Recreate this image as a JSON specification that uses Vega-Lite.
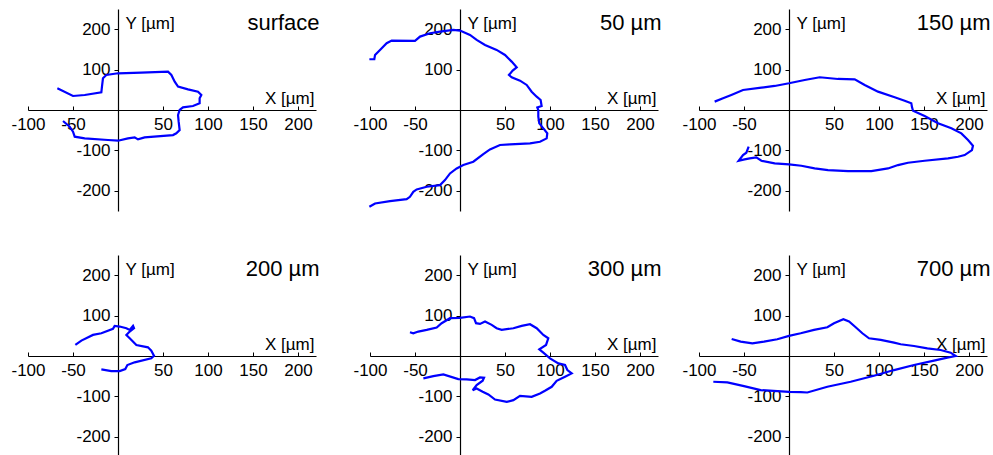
{
  "$schema": "https://vega.github.io/schema/vega-lite/v6.json",
  "autosize": {"type": "pad"},
  "padding": {"left": 10, "top": 9, "right": 0, "bottom": 0},
  "background": "white",
  "config": {
    "font": "Liberation Sans",
    "view": {"stroke": null},
    "axis": {"grid": false, "domainColor": "black", "tickColor": "black", "labelColor": "black", "titleColor": "black", "labelFont": "Liberation Sans", "titleFont": "Liberation Sans", "labelFontSize": 17, "titleFontSize": 17, "titleFontWeight": "normal", "labelFlush": false, "labelOverlap": false, "domainWidth": 1.2, "tickWidth": 1},
    "axisX": {"orient": "bottom", "offset": -101, "values": [-100, -75, -50, -25, 0, 25, 50, 75, 100, 125, 150, 175, 200], "labelExpr": "datum.value % 50 == 0 && datum.value != 0 ? '' + datum.value : ''", "tickSize": -4, "labelPadding": 10, "titleX": 286, "titleY": -7, "titleAlign": "right", "titleBaseline": "alphabetic", "titleAngle": 0},
    "axisY": {"orient": "left", "offset": -90, "values": [-250, -200, -150, -100, -50, 0, 50, 100, 150, 200, 250], "labelExpr": "datum.value % 100 == 0 && datum.value != 0 ? '' + datum.value : ''", "tickSize": 4, "labelPadding": 4, "titleX": 7, "titleY": 19, "titleAlign": "left", "titleBaseline": "alphabetic", "titleAngle": 0}
  },
  "datasets": {
    "p1": [
      {"x": -67.4, "y": 53.7}, {"x": -50, "y": 34.7}, {"x": -37, "y": 37.2}, {"x": -18.5, "y": 43.8}, {"x": -17.8, "y": 57.8}, {"x": -16.7, "y": 78.5}, {"x": -13, "y": 86.7}, {"x": 0, "y": 90.9}, {"x": 25.9, "y": 92.5}, {"x": 55.6, "y": 95}, {"x": 59.3, "y": 86.7}, {"x": 63, "y": 70.2}, {"x": 66.7, "y": 57.8}, {"x": 77.8, "y": 51.2}, {"x": 88.9, "y": 45.4}, {"x": 92.6, "y": 37.2}, {"x": 90.7, "y": 28.9}, {"x": 90.7, "y": 16.5}, {"x": 83.3, "y": 9.9}, {"x": 72.2, "y": 6.6}, {"x": 68.5, "y": 0}, {"x": 66.7, "y": -12.4}, {"x": 67.4, "y": -28.9}, {"x": 68.5, "y": -49.6}, {"x": 64.8, "y": -57.8}, {"x": 61.1, "y": -62}, {"x": 29.6, "y": -67.7}, {"x": 22.2, "y": -72.7}, {"x": 18.5, "y": -67.7}, {"x": 11.1, "y": -70.2}, {"x": 0, "y": -76}, {"x": -11.1, "y": -74.3}, {"x": -37, "y": -70.2}, {"x": -48.1, "y": -66.1}, {"x": -50, "y": -53.7}, {"x": -53.7, "y": -41.3}, {"x": -61.1, "y": -27.3}
    ],
    "p2": [
      {"x": -100.7, "y": 125.6}, {"x": -95.2, "y": 125.6}, {"x": -94.4, "y": 136.3}, {"x": -88.9, "y": 148.7}, {"x": -81.5, "y": 165.2}, {"x": -75.9, "y": 171.8}, {"x": -50, "y": 171}, {"x": -44.4, "y": 181.7}, {"x": -33.3, "y": 190}, {"x": -22.2, "y": 194.1}, {"x": -7.4, "y": 198.3}, {"x": 0, "y": 196.6}, {"x": 11.1, "y": 185.9}, {"x": 18.5, "y": 173.5}, {"x": 27.8, "y": 161.1}, {"x": 40.7, "y": 148.7}, {"x": 50, "y": 136.3}, {"x": 57.4, "y": 119.8}, {"x": 63, "y": 105.7}, {"x": 58.5, "y": 97.5}, {"x": 54.4, "y": 86.7}, {"x": 57.4, "y": 81}, {"x": 66.7, "y": 72.7}, {"x": 74.1, "y": 62}, {"x": 79.6, "y": 45.4}, {"x": 85.2, "y": 33}, {"x": 89.6, "y": 24.8}, {"x": 90.7, "y": 9.9}, {"x": 85.9, "y": 6.6}, {"x": 87, "y": 0}, {"x": 87, "y": -16.5}, {"x": 88.1, "y": -33}, {"x": 92.6, "y": -45.4}, {"x": 97, "y": -57.8}, {"x": 96.3, "y": -70.2}, {"x": 88.9, "y": -78.5}, {"x": 77.8, "y": -82.6}, {"x": 55.6, "y": -85.1}, {"x": 44.4, "y": -86.7}, {"x": 33.3, "y": -97.5}, {"x": 25.9, "y": -109}, {"x": 14.8, "y": -128}, {"x": 3.7, "y": -136.3}, {"x": -3.7, "y": -144.6}, {"x": -11.1, "y": -157}, {"x": -16.7, "y": -173.5}, {"x": -22.2, "y": -185.9}, {"x": -37, "y": -190}, {"x": -48.1, "y": -196.6}, {"x": -51.9, "y": -202.4}, {"x": -55.6, "y": -214.8}, {"x": -59.3, "y": -220.6}, {"x": -77.8, "y": -225.5}, {"x": -94.4, "y": -231.3}, {"x": -100.7, "y": -239.6}
    ],
    "p3": [
      {"x": -82.6, "y": 20.7}, {"x": -73.3, "y": 28.9}, {"x": -64.1, "y": 37.2}, {"x": -51.1, "y": 49.6}, {"x": -30.7, "y": 55.3}, {"x": -15.9, "y": 59.5}, {"x": 0, "y": 66.1}, {"x": 17.4, "y": 74.3}, {"x": 34.1, "y": 81}, {"x": 54.4, "y": 76.8}, {"x": 73, "y": 76}, {"x": 84.1, "y": 62}, {"x": 98.9, "y": 45.4}, {"x": 117.4, "y": 31.4}, {"x": 128.5, "y": 23.1}, {"x": 135.9, "y": 16.5}, {"x": 136.7, "y": 6.6}, {"x": 137.8, "y": -1.7}, {"x": 150.7, "y": -14.9}, {"x": 165.6, "y": -33}, {"x": 180.4, "y": -45.4}, {"x": 191.5, "y": -57.8}, {"x": 198.9, "y": -74.3}, {"x": 204.4, "y": -88.4}, {"x": 203.3, "y": -99.1}, {"x": 195.2, "y": -111.5}, {"x": 187.8, "y": -115.7}, {"x": 176.7, "y": -119.8}, {"x": 150.7, "y": -125.6}, {"x": 132.2, "y": -130.5}, {"x": 121.1, "y": -136.3}, {"x": 110, "y": -144.6}, {"x": 91.5, "y": -151.2}, {"x": 65.6, "y": -151.2}, {"x": 43.3, "y": -148.7}, {"x": 28.5, "y": -144.6}, {"x": 13.7, "y": -138}, {"x": 0, "y": -134.7}, {"x": -15.9, "y": -132.2}, {"x": -30.7, "y": -125.6}, {"x": -36.3, "y": -117.3}, {"x": -43.7, "y": -119.8}, {"x": -49.3, "y": -122.3}, {"x": -55.9, "y": -125.6}, {"x": -51.1, "y": -111.5}, {"x": -47.4, "y": -105.7}, {"x": -44.8, "y": -90.9}
    ],
    "p4": [
      {"x": -47.4, "y": 27.3}, {"x": -40.7, "y": 38.1}, {"x": -27.8, "y": 52.2}, {"x": -18.5, "y": 56.3}, {"x": -5.6, "y": 67.1}, {"x": -3.7, "y": 74.5}, {"x": 1.9, "y": 72.9}, {"x": 9.3, "y": 68.7}, {"x": 13, "y": 64.6}, {"x": 16.7, "y": 74.5}, {"x": 17.8, "y": 68.7}, {"x": 13, "y": 60.5}, {"x": 9.3, "y": 52.2}, {"x": 13, "y": 43.9}, {"x": 20.4, "y": 27.3}, {"x": 33.3, "y": 21.5}, {"x": 37, "y": 13.3}, {"x": 40, "y": 0.8}, {"x": 37, "y": -5.8}, {"x": 18.5, "y": -15.7}, {"x": 10.4, "y": -22.4}, {"x": 8.1, "y": -32.3}, {"x": 1.9, "y": -37.3}, {"x": -7.4, "y": -37.3}, {"x": -18.5, "y": -33.1}
    ],
    "p5": [
      {"x": -55.6, "y": 58.8}, {"x": -51.9, "y": 56.3}, {"x": -46.3, "y": 60.5}, {"x": -37, "y": 64.6}, {"x": -25.9, "y": 70.4}, {"x": -20.4, "y": 81.2}, {"x": -11.1, "y": 93.6}, {"x": 0, "y": 94.4}, {"x": 11.1, "y": 97.7}, {"x": 15.6, "y": 93.6}, {"x": 17.8, "y": 81.2}, {"x": 22.2, "y": 79.5}, {"x": 27.8, "y": 85.3}, {"x": 35.2, "y": 77}, {"x": 40.7, "y": 68.7}, {"x": 46.3, "y": 64.6}, {"x": 59.3, "y": 68.7}, {"x": 68.5, "y": 74.5}, {"x": 77.8, "y": 78.7}, {"x": 85.2, "y": 68.7}, {"x": 92.6, "y": 52.2}, {"x": 98.1, "y": 43.9}, {"x": 95.6, "y": 27.3}, {"x": 88.1, "y": 16.6}, {"x": 92.6, "y": 8.3}, {"x": 100, "y": -5.8}, {"x": 109.3, "y": -18.2}, {"x": 116.7, "y": -22.4}, {"x": 119.3, "y": -34.8}, {"x": 124.1, "y": -43.1}, {"x": 116.7, "y": -51.3}, {"x": 107.4, "y": -61.3}, {"x": 101.9, "y": -76.2}, {"x": 94.4, "y": -86.1}, {"x": 88.9, "y": -92.8}, {"x": 79.6, "y": -101}, {"x": 66.7, "y": -98.6}, {"x": 59.3, "y": -109.3}, {"x": 51.9, "y": -113.5}, {"x": 38.9, "y": -107.7}, {"x": 31.5, "y": -95.2}, {"x": 25.2, "y": -88.6}, {"x": 18.5, "y": -80.3}, {"x": 14.1, "y": -84.5}, {"x": 18.5, "y": -72}, {"x": 25.2, "y": -61.3}, {"x": 26.7, "y": -53.8}, {"x": 22.2, "y": -53}, {"x": 16.7, "y": -59.6}, {"x": 7.4, "y": -58}, {"x": -1.9, "y": -57.1}, {"x": -18.5, "y": -45.5}, {"x": -29.6, "y": -49.7}, {"x": -40.7, "y": -55.5}
    ],
    "p6": [
      {"x": -63.7, "y": 42.2}, {"x": -53.7, "y": 35.6}, {"x": -40.7, "y": 31.5}, {"x": -27.8, "y": 35.6}, {"x": -13, "y": 41.4}, {"x": 0, "y": 49.7}, {"x": 13, "y": 56.3}, {"x": 27.8, "y": 64.6}, {"x": 42.6, "y": 71.2}, {"x": 50, "y": 81.2}, {"x": 60.4, "y": 91.1}, {"x": 66.7, "y": 85.3}, {"x": 74.1, "y": 71.2}, {"x": 81.5, "y": 56.3}, {"x": 88.9, "y": 43.9}, {"x": 101.9, "y": 39.8}, {"x": 116.7, "y": 33.1}, {"x": 124.1, "y": 29}, {"x": 138.9, "y": 24.8}, {"x": 153.7, "y": 19}, {"x": 168.5, "y": 14.9}, {"x": 179.6, "y": 8.3}, {"x": 185.2, "y": 0}, {"x": 175.9, "y": -4.1}, {"x": 161.1, "y": -11.6}, {"x": 138.9, "y": -22.4}, {"x": 116.7, "y": -34.8}, {"x": 94.4, "y": -48.9}, {"x": 68.5, "y": -63.8}, {"x": 42.6, "y": -76.2}, {"x": 20.4, "y": -90.3}, {"x": 13, "y": -89.4}, {"x": 0, "y": -88.6}, {"x": -31.5, "y": -84.5}, {"x": -50, "y": -74.5}, {"x": -68.5, "y": -65.4}, {"x": -84.1, "y": -63.8}
    ]
  },
  "spacing": 43,
  "vconcat": [
    {
      "bounds": "flush",
      "spacing": 54,
      "hconcat": [
        {
          "width": 288, "height": 202,
          "layer": [
            {"data": {"name": "p1"}, "mark": {"type": "line", "color": "#0000ff", "strokeWidth": 2.2, "clip": false},
             "encoding": {"x": {"field": "x", "type": "quantitative", "scale": {"domain": [-100, 220], "nice": false, "zero": false}, "axis": {"title": "X [µm]"}},
                          "y": {"field": "y", "type": "quantitative", "scale": {"domain": [-250, 250], "nice": false, "zero": false}, "axis": {"title": "Y [µm]"}},
                          "order": {"value": null}}},
            {"data": {"values": [{"label": "surface"}]}, "mark": {"type": "text", "align": "right", "baseline": "alphabetic", "fontSize": 22, "color": "black"},
             "encoding": {"x": {"datum": 224, "type": "quantitative"}, "y": {"datum": 197, "type": "quantitative"}, "text": {"field": "label"}}}
          ]
        },
        {
          "bounds": "flush",
          "spacing": 41,
          "hconcat": [
            {
              "width": 288, "height": 202,
              "layer": [
                {"data": {"name": "p2"}, "mark": {"type": "line", "color": "#0000ff", "strokeWidth": 2.2, "clip": false},
                 "encoding": {"x": {"field": "x", "type": "quantitative", "scale": {"domain": [-100, 220], "nice": false, "zero": false}, "axis": {"title": "X [µm]"}},
                              "y": {"field": "y", "type": "quantitative", "scale": {"domain": [-250, 250], "nice": false, "zero": false}, "axis": {"title": "Y [µm]"}},
                              "order": {"value": null}}},
                {"data": {"values": [{"label": "50 µm"}]}, "mark": {"type": "text", "align": "right", "baseline": "alphabetic", "fontSize": 22, "color": "black"},
                 "encoding": {"x": {"datum": 224, "type": "quantitative"}, "y": {"datum": 197, "type": "quantitative"}, "text": {"field": "label"}}}
              ]
            },
            {
              "width": 288, "height": 202,
              "layer": [
                {"data": {"name": "p3"}, "mark": {"type": "line", "color": "#0000ff", "strokeWidth": 2.2, "clip": false},
                 "encoding": {"x": {"field": "x", "type": "quantitative", "scale": {"domain": [-100, 220], "nice": false, "zero": false}, "axis": {"title": "X [µm]"}},
                              "y": {"field": "y", "type": "quantitative", "scale": {"domain": [-250, 250], "nice": false, "zero": false}, "axis": {"title": "Y [µm]"}},
                              "order": {"value": null}}},
                {"data": {"values": [{"label": "150 µm"}]}, "mark": {"type": "text", "align": "right", "baseline": "alphabetic", "fontSize": 22, "color": "black"},
                 "encoding": {"x": {"datum": 224, "type": "quantitative"}, "y": {"datum": 197, "type": "quantitative"}, "text": {"field": "label"}}}
              ]
            }
          ]
        }
      ]
    },
    {
      "bounds": "flush",
      "spacing": 54,
      "hconcat": [
        {
          "width": 288, "height": 202,
          "layer": [
            {"data": {"name": "p4"}, "mark": {"type": "line", "color": "#0000ff", "strokeWidth": 2.2, "clip": false},
             "encoding": {"x": {"field": "x", "type": "quantitative", "scale": {"domain": [-100, 220], "nice": false, "zero": false}, "axis": {"title": "X [µm]"}},
                          "y": {"field": "y", "type": "quantitative", "scale": {"domain": [-250, 250], "nice": false, "zero": false}, "axis": {"title": "Y [µm]"}},
                          "order": {"value": null}}},
            {"data": {"values": [{"label": "200 µm"}]}, "mark": {"type": "text", "align": "right", "baseline": "alphabetic", "fontSize": 22, "color": "black"},
             "encoding": {"x": {"datum": 224, "type": "quantitative"}, "y": {"datum": 197, "type": "quantitative"}, "text": {"field": "label"}}}
          ]
        },
        {
          "bounds": "flush",
          "spacing": 41,
          "hconcat": [
            {
              "width": 288, "height": 202,
              "layer": [
                {"data": {"name": "p5"}, "mark": {"type": "line", "color": "#0000ff", "strokeWidth": 2.2, "clip": false},
                 "encoding": {"x": {"field": "x", "type": "quantitative", "scale": {"domain": [-100, 220], "nice": false, "zero": false}, "axis": {"title": "X [µm]"}},
                              "y": {"field": "y", "type": "quantitative", "scale": {"domain": [-250, 250], "nice": false, "zero": false}, "axis": {"title": "Y [µm]"}},
                              "order": {"value": null}}},
                {"data": {"values": [{"label": "300 µm"}]}, "mark": {"type": "text", "align": "right", "baseline": "alphabetic", "fontSize": 22, "color": "black"},
                 "encoding": {"x": {"datum": 224, "type": "quantitative"}, "y": {"datum": 197, "type": "quantitative"}, "text": {"field": "label"}}}
              ]
            },
            {
              "width": 288, "height": 202,
              "layer": [
                {"data": {"name": "p6"}, "mark": {"type": "line", "color": "#0000ff", "strokeWidth": 2.2, "clip": false},
                 "encoding": {"x": {"field": "x", "type": "quantitative", "scale": {"domain": [-100, 220], "nice": false, "zero": false}, "axis": {"title": "X [µm]"}},
                              "y": {"field": "y", "type": "quantitative", "scale": {"domain": [-250, 250], "nice": false, "zero": false}, "axis": {"title": "Y [µm]"}},
                              "order": {"value": null}}},
                {"data": {"values": [{"label": "700 µm"}]}, "mark": {"type": "text", "align": "right", "baseline": "alphabetic", "fontSize": 22, "color": "black"},
                 "encoding": {"x": {"datum": 224, "type": "quantitative"}, "y": {"datum": 197, "type": "quantitative"}, "text": {"field": "label"}}}
              ]
            }
          ]
        }
      ]
    }
  ]
}
